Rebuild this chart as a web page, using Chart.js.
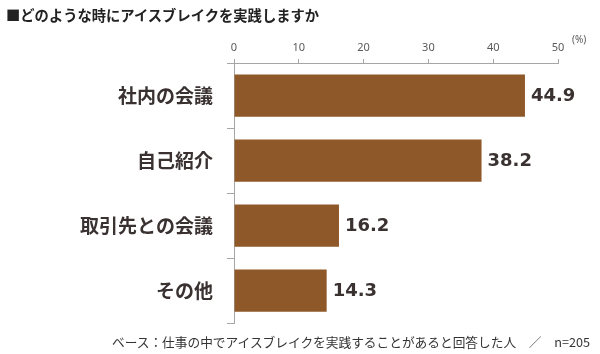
<!DOCTYPE html>
<html><head><meta charset="utf-8">
<script src="https://cdn.jsdelivr.net/npm/chart.js@4/dist/chart.umd.min.js"></script>
<style>
html,body{margin:0;padding:0;background:#fff;}
#wrap{position:relative;width:600px;height:354px;overflow:hidden;}
#c{position:absolute;left:0;top:0;}
.t{position:absolute;white-space:nowrap;font-family:"Noto Sans CJK JP",sans-serif;}
#title{left:6px;top:4px;font-size:14.3px;font-weight:bold;color:#222;}
#unit{left:572px;top:32px;font-size:10px;color:#595959;font-family:"Noto Sans",sans-serif;}
#foot{left:112px;top:332px;font-size:12.7px;color:#333;}
</style></head>
<body><div id="wrap">
<canvas id="c" width="600" height="354"></canvas>
<div class="t" id="title">■どのような時にアイスブレイクを実践しますか</div>
<div class="t" id="unit">(%)</div>
<div class="t" id="foot">ベース：仕事の中でアイスブレイクを実践することがあると回答した人　／　n=205</div>
</div>
<script>
"use strict";
// data
const CATEGORIES = ['社内の会議', '自己紹介', '取引先との会議', 'その他'];
const VALUES = [44.9, 38.2, 16.2, 14.3];
const X_TICKS = [0, 10, 20, 30, 40, 50];

const C = {bar:'#8f5829', ink:'#3a3131', mut:'#595959', line:'#a6a6a6'};

const valueLabels = {
  id: 'valueLabels',
  afterDatasetsDraw(chart) {
    const ctx = chart.ctx;
    const meta = chart.getDatasetMeta(0);
    ctx.save();
    ctx.font = 'bold 18px "DejaVu Sans", sans-serif';
    ctx.fillStyle = C.ink;
    ctx.textAlign = 'left';
    ctx.textBaseline = 'middle';
    meta.data.forEach((bar, i) => {
      ctx.fillText(VALUES[i].toFixed(1), bar.x + 6, bar.y + 1);
    });
    ctx.restore();
  }
};

new Chart(document.getElementById('c'), {
  type: 'bar',
  data: {
    labels: CATEGORIES,
    datasets: [{data: VALUES, backgroundColor: C.bar, borderWidth: 0,
      barPercentage: 0.65, categoryPercentage: 1}]
  },
  options: {
    indexAxis: 'y', responsive: false, animation: false,
    layout: {padding: {left: 0, top: 0, right: 42, bottom: 31}},
    plugins: {legend: {display: false}, tooltip: {enabled: false}},
    scales: {
      x: {
        position: 'top', min: 0, max: 50,
        afterBuildTicks: s => { s.ticks = X_TICKS.map(v => ({value: v})); },
        afterFit: s => { s.height = 63; },
        grid: {drawOnChartArea: false, drawTicks: true, tickLength: 4, color: C.line},
        border: {display: true, color: C.line},
        ticks: {color: C.mut, padding: 5, font: {family: '"Noto Sans", sans-serif', size: 11}}
      },
      y: {
        afterFit: s => { s.width = 234; },
        grid: {offset: true, drawOnChartArea: false, drawTicks: true, tickLength: 7, color: C.line},
        border: {display: true, color: C.line},
        ticks: {color: C.ink, padding: 14,
          font: {family: '"Noto Sans CJK JP", sans-serif', size: 19, weight: 'bold'}}
      }
    }
  },
  plugins: [valueLabels]
});
</script>
</body></html>
